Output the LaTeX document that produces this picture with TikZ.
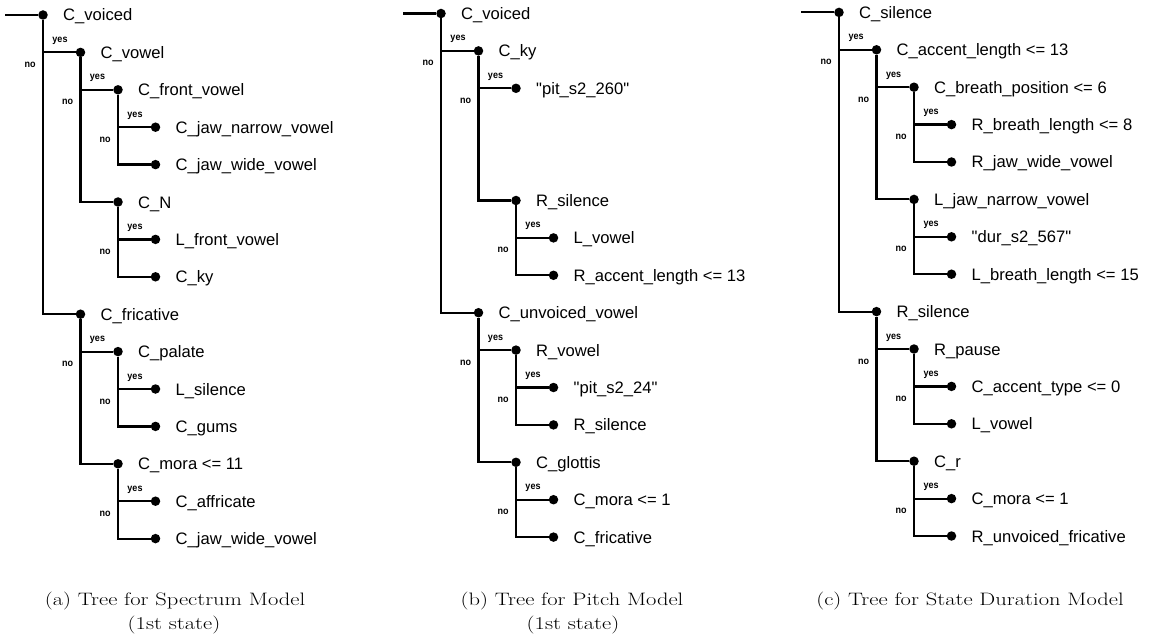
\documentclass[tikz,border=0pt]{standalone}
\usepackage{fontspec}
\usepackage{graphicx}
\newfontfamily\lblfont{Liberation Sans}
\def\treex{43}
\def\treey{15}
\def\stepx{37.5}
\def\stepy{37.4}
\tikzset{
  dot/.style={circle, fill=black, inner sep=0pt, minimum size=9.5pt},
  lbl/.style={font=\lblfont\fontsize{16.6}{18}\selectfont, inner sep=0pt, anchor=base west},
  br/.style={line width=2.2pt},
  yn/.style={font=\lblfont\bfseries\fontsize{10}{12}\selectfont, inner sep=0pt, anchor=base},
  captxt/.style={font=\fontsize{18}{20}\selectfont, inner sep=0pt, anchor=base},
}
% #1 name, #2 level, #3 row, #4 text
\newcommand\mknode[4]{%
  \path (\treex+#2*\stepx,\treey+#3*\stepy) node[dot] (#1) {}
        ++(20,6) node[lbl] (#1t) {#4};}
% #1 name, #2 level of parent, #3 row of yes child
\newcommand\yesno[3]{%
  \path (\treex+#2*\stepx+17,\treey+#3*\stepy-10) node[yn] (#1y) {\scalebox{0.9}[1]{yes}};
  \path (\treex+#2*\stepx-13,\treey+#3*\stepy+15) node[yn] (#1n) {\scalebox{0.9}[1]{no}};}
\begin{document}
\begin{tikzpicture}[x=1pt,y=-1pt]
\useasboundingbox (0,0) rectangle (1156,639);
% ---------------- Tree (a)
\def\treex{43}\def\treey{15}
\coordinate (ain) at (\treex-38,\treey);
\mknode{a0}{0}{0}{C\_voiced}
\mknode{a1}{1}{1}{C\_vowel}
\mknode{a2}{2}{2}{C\_front\_vowel}
\mknode{a3}{3}{3}{C\_jaw\_narrow\_vowel}
\mknode{a4}{3}{4}{C\_jaw\_wide\_vowel}
\mknode{a5}{2}{5}{C\_N}
\mknode{a6}{3}{6}{L\_front\_vowel}
\mknode{a7}{3}{7}{C\_ky}
\mknode{a8}{1}{8}{C\_fricative}
\mknode{a9}{2}{9}{C\_palate}
\mknode{a10}{3}{10}{L\_silence}
\mknode{a11}{3}{11}{C\_gums}
\mknode{a12}{2}{12}{C\_mora <= 11}
\mknode{a13}{3}{13}{C\_affricate}
\mknode{a14}{3}{14}{C\_jaw\_wide\_vowel}
\yesno{ya0}{0}{1}
\yesno{ya1}{1}{2}
\yesno{ya2}{2}{3}
\yesno{ya5}{2}{6}
\yesno{ya8}{1}{9}
\yesno{ya9}{2}{10}
\yesno{ya12}{2}{13}
\draw[br] (ain) -- (a0);
\draw[br] (a0) |- (a1); \draw[br] (a0) |- (a8);
\draw[br] (a1) |- (a2); \draw[br] (a1) |- (a5);
\draw[br] (a2) |- (a3); \draw[br] (a2) |- (a4);
\draw[br] (a5) |- (a6); \draw[br] (a5) |- (a7);
\draw[br] (a8) |- (a9); \draw[br] (a8) |- (a12);
\draw[br] (a9) |- (a10); \draw[br] (a9) |- (a11);
\draw[br] (a12) |- (a13); \draw[br] (a12) |- (a14);
% ---------------- Tree (b)
\def\treex{441}\def\treey{13.5}
\coordinate (bin) at (\treex-38,\treey);
\mknode{b0}{0}{0}{C\_voiced}
\mknode{b1}{1}{1}{C\_ky}
\mknode{b2}{2}{2}{"pit\_s2\_260"}
\mknode{b3}{2}{5}{R\_silence}
\mknode{b4}{3}{6}{L\_vowel}
\mknode{b5}{3}{7}{R\_accent\_length <= 13}
\mknode{b6}{1}{8}{C\_unvoiced\_vowel}
\mknode{b7}{2}{9}{R\_vowel}
\mknode{b8}{3}{10}{"pit\_s2\_24"}
\mknode{b9}{3}{11}{R\_silence}
\mknode{b10}{2}{12}{C\_glottis}
\mknode{b11}{3}{13}{C\_mora <= 1}
\mknode{b12}{3}{14}{C\_fricative}
\yesno{yb0}{0}{1}
\yesno{yb1}{1}{2}
\yesno{yb3}{2}{6}
\yesno{yb6}{1}{9}
\yesno{yb7}{2}{10}
\yesno{yb10}{2}{13}
\draw[br] (bin) -- (b0);
\draw[br] (b0) |- (b1); \draw[br] (b0) |- (b6);
\draw[br] (b1) |- (b2); \draw[br] (b1) |- (b3);
\draw[br] (b3) |- (b4); \draw[br] (b3) |- (b5);
\draw[br] (b6) |- (b7); \draw[br] (b6) |- (b10);
\draw[br] (b7) |- (b8); \draw[br] (b7) |- (b9);
\draw[br] (b10) |- (b11); \draw[br] (b10) |- (b12);
% ---------------- Tree (c)
\def\treex{839}\def\treey{12.4}
\coordinate (cin) at (\treex-38,\treey);
\mknode{c0}{0}{0}{C\_silence}
\mknode{c1}{1}{1}{C\_accent\_length <= 13}
\mknode{c2}{2}{2}{C\_breath\_position <= 6}
\mknode{c3}{3}{3}{R\_breath\_length <= 8}
\mknode{c4}{3}{4}{R\_jaw\_wide\_vowel}
\mknode{c5}{2}{5}{L\_jaw\_narrow\_vowel}
\mknode{c6}{3}{6}{"dur\_s2\_567"}
\mknode{c7}{3}{7}{L\_breath\_length <= 15}
\mknode{c8}{1}{8}{R\_silence}
\mknode{c9}{2}{9}{R\_pause}
\mknode{c10}{3}{10}{C\_accent\_type <= 0}
\mknode{c11}{3}{11}{L\_vowel}
\mknode{c12}{2}{12}{C\_r}
\mknode{c13}{3}{13}{C\_mora <= 1}
\mknode{c14}{3}{14}{R\_unvoiced\_fricative}
\yesno{yc0}{0}{1}
\yesno{yc1}{1}{2}
\yesno{yc2}{2}{3}
\yesno{yc5}{2}{6}
\yesno{yc8}{1}{9}
\yesno{yc9}{2}{10}
\yesno{yc12}{2}{13}
\draw[br] (cin) -- (c0);
\draw[br] (c0) |- (c1); \draw[br] (c0) |- (c8);
\draw[br] (c1) |- (c2); \draw[br] (c1) |- (c5);
\draw[br] (c2) |- (c3); \draw[br] (c2) |- (c4);
\draw[br] (c5) |- (c6); \draw[br] (c5) |- (c7);
\draw[br] (c8) |- (c9); \draw[br] (c8) |- (c12);
\draw[br] (c9) |- (c10); \draw[br] (c9) |- (c11);
\draw[br] (c12) |- (c13); \draw[br] (c12) |- (c14);
% ---------------- Captions
\node[captxt] (capa1) at (175,605) {\scalebox{1.25}[1]{(a) Tree for Spectrum Model}};
\node[captxt] (capa2) at (174,629) {\scalebox{1.25}[1]{(1st state)}};
\node[captxt] (capb1) at (572,605) {\scalebox{1.25}[1]{(b) Tree for Pitch Model}};
\node[captxt] (capb2) at (573,629) {\scalebox{1.25}[1]{(1st state)}};
\node[captxt] (capc1) at (970,605) {\scalebox{1.25}[1]{(c) Tree for State Duration Model}};
\end{tikzpicture}
\end{document}
